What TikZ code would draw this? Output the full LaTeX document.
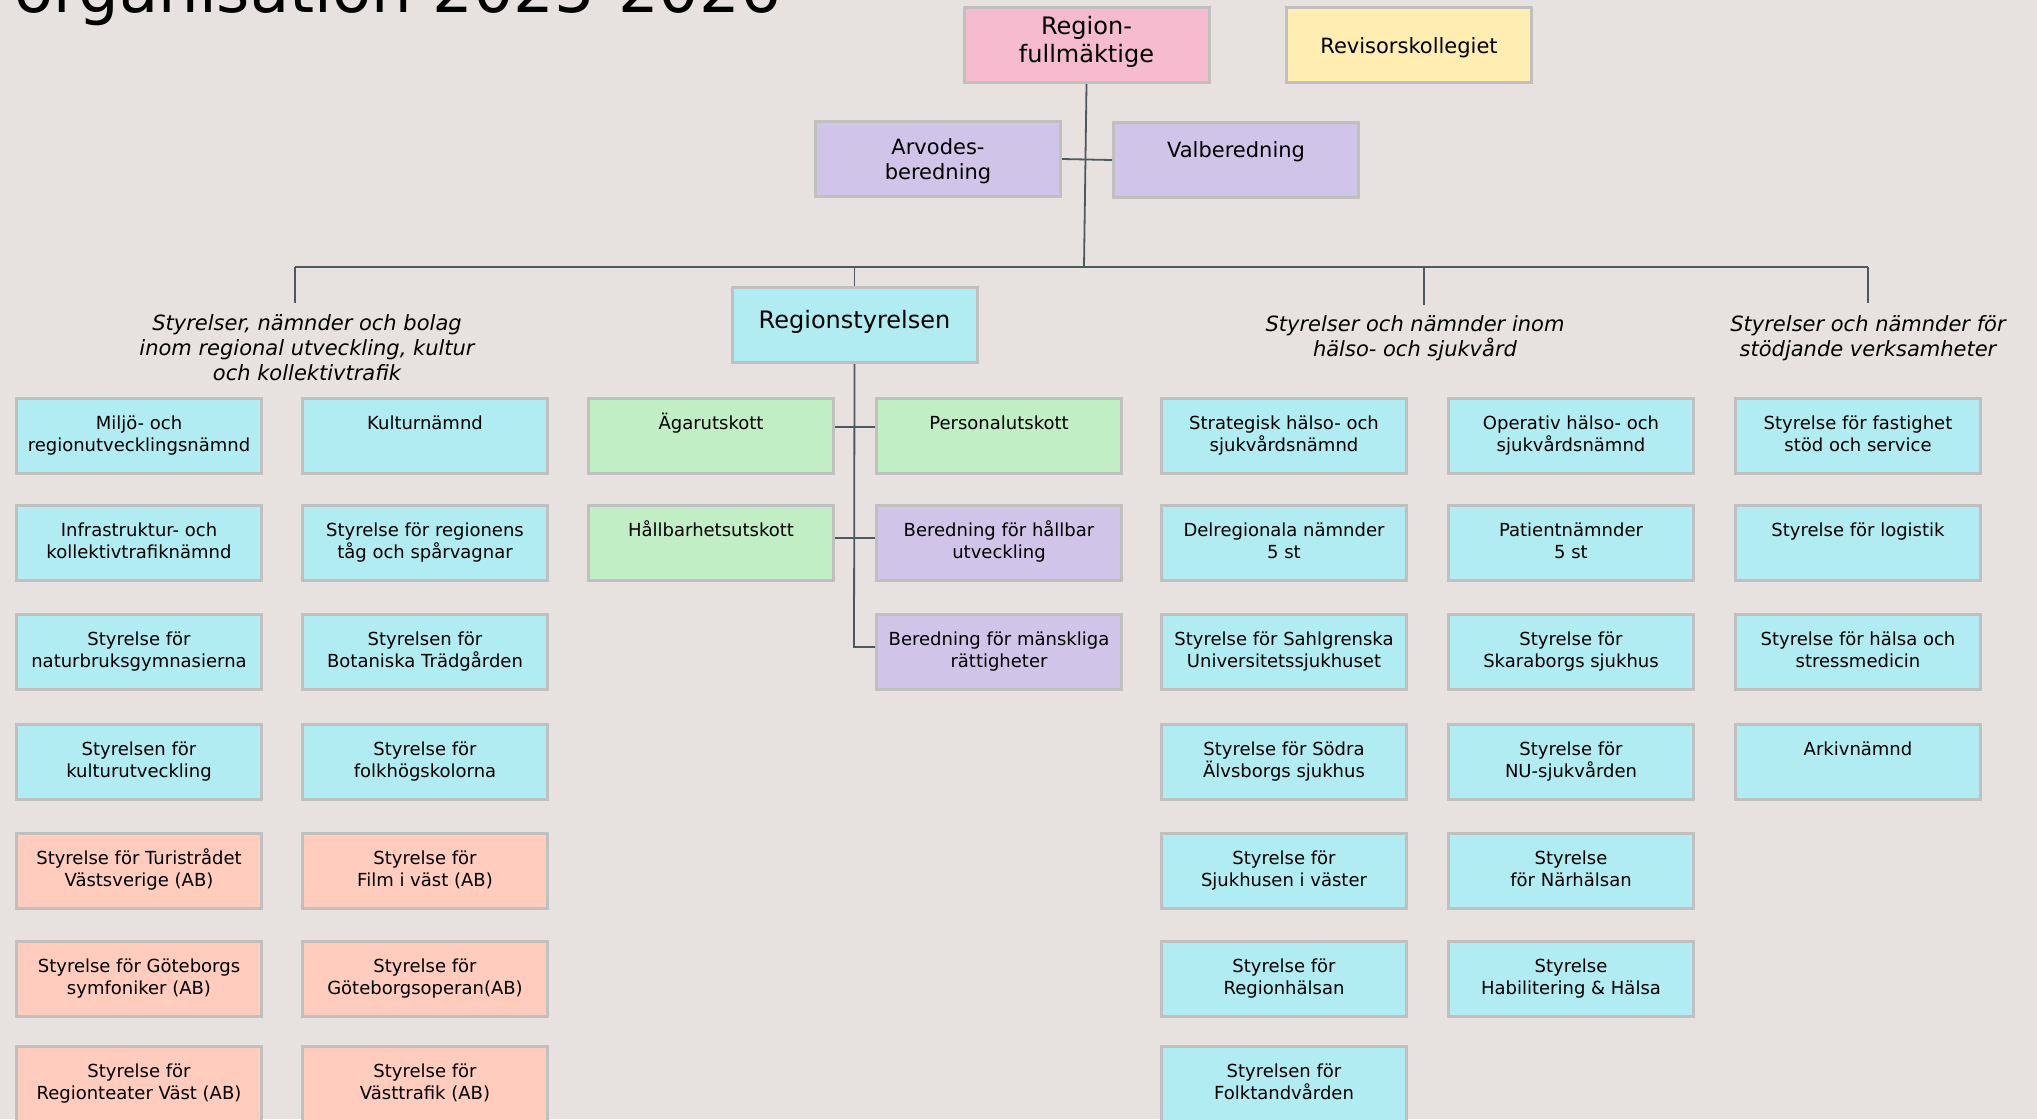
\documentclass[tikz,border=0pt]{standalone}
\usepackage{fontspec}
\setmainfont{DejaVu Sans}
\definecolor{bg}{RGB}{231,226,223}
\definecolor{cyanbox}{RGB}{176,236,242}
\definecolor{greenbox}{RGB}{193,238,196}
\definecolor{lavbox}{RGB}{208,197,233}
\definecolor{salbox}{RGB}{255,204,189}
\definecolor{pinkbox}{RGB}{246,187,207}
\definecolor{yelbox}{RGB}{255,237,178}
\definecolor{bordergray}{RGB}{192,192,192}
\definecolor{linegray}{RGB}{78,88,95}
\tikzset{
  boxst/.style={draw=bordergray, line width=3pt, inner sep=0pt, minimum width=245pt, minimum height=75pt},
  smalltxt/.style={anchor=north, inner sep=0pt, align=center, font=\fontsize{18}{22.5}\selectfont},
  midtxt/.style={anchor=north, inner sep=0pt, align=center, font=\fontsize{21}{25}\selectfont},
  bigtxt/.style={anchor=north, inner sep=0pt, align=center, font=\fontsize{24}{28}\selectfont},
  grouptxt/.style={anchor=north, inner sep=0pt, align=center, font=\fontsize{21}{25}\selectfont\itshape},
  conn/.style={draw=linegray, line width=1.8pt},
}
\newcommand\obox[5]{%
  \node[boxst, fill=#4] (#1) at ({#2+124},{#3+39}) {};
  \node[smalltxt] (#1-t) at ({#2+124},{#3+14}) {\rule{0pt}{18pt}#5};
}
\begin{document}
\begin{tikzpicture}[x=1pt,y=-1pt]
\useasboundingbox (0,0) rectangle (2037,1119);
\clip (0,0) rectangle (2037,1119);
\fill[bg] (0,0) rectangle (2037,1119);

% title
\node[anchor=base west, inner sep=0pt, font=\fontsize{64}{70}\selectfont] (title) at (14,12) {organisation 2025-2026};

% top boxes
\node[boxst, fill=pinkbox] (rf) at (1086.5,45) {};
\node[bigtxt] (rf-t) at (1086.5,9.8) {\rule{0pt}{24pt}Region-\\fullmäktige};
\node[boxst, fill=yelbox] (rev) at (1409,45) {};
\node[midtxt] (rev-t) at (1409,32.7) {\rule{0pt}{21pt}Revisorskollegiet};
\node[boxst, fill=lavbox] (arv) at (938,159) {};
\node[midtxt] (arv-t) at (938,133.7) {\rule{0pt}{21pt}Arvodes-\\beredning};
\node[boxst, fill=lavbox] (valb) at (1236,160) {};
\node[midtxt] (valb-t) at (1236,136.7) {\rule{0pt}{21pt}Valberedning};
\node[boxst, fill=cyanbox] (rs) at (854.5,325) {};
\node[bigtxt] (rs-t) at (854.5,303.8) {\rule{0pt}{24pt}Regionstyrelsen};

% group labels
\node[grouptxt] (g1) at (307,309.7) {\rule{0pt}{21pt}Styrelser, nämnder och bolag\\inom regional utveckling, kultur\\och kollektivtrafik};
\node[grouptxt] (g2) at (1415,310.7) {\rule{0pt}{21pt}Styrelser och nämnder inom\\hälso- och sjukvård};
\node[grouptxt] (g3) at (1868,310.7) {\rule{0pt}{21pt}Styrelser och nämnder för\\stödjande verksamheter};

% column 1
\obox{a1}{15}{397}{cyanbox}{Miljö- och\\regionutvecklingsnämnd}
\obox{a2}{15}{504}{cyanbox}{Infrastruktur- och\\kollektivtrafiknämnd}
\obox{a3}{15}{613}{cyanbox}{Styrelse för\\naturbruksgymnasierna}
\obox{a4}{15}{723}{cyanbox}{Styrelsen för\\kulturutveckling}
\obox{a5}{15}{832}{salbox}{Styrelse för Turistrådet\\Västsverige (AB)}
\obox{a6}{15}{940}{salbox}{Styrelse för Göteborgs\\symfoniker (AB)}
\obox{a7}{15}{1045}{salbox}{Styrelse för\\Regionteater Väst (AB)}
% column 2
\obox{b1}{301}{397}{cyanbox}{Kulturnämnd}
\obox{b2}{301}{504}{cyanbox}{Styrelse för regionens\\tåg och spårvagnar}
\obox{b3}{301}{613}{cyanbox}{Styrelsen för\\Botaniska Trädgården}
\obox{b4}{301}{723}{cyanbox}{Styrelse för\\folkhögskolorna}
\obox{b5}{301}{832}{salbox}{Styrelse för\\Film i väst (AB)}
\obox{b6}{301}{940}{salbox}{Styrelse för\\Göteborgsoperan(AB)}
\obox{b7}{301}{1045}{salbox}{Styrelse för\\Västtrafik (AB)}
% column 3 and 4
\obox{c1}{587}{397}{greenbox}{Ägarutskott}
\obox{c2}{587}{504}{greenbox}{Hållbarhetsutskott}
\obox{d1}{875}{397}{greenbox}{Personalutskott}
\obox{d2}{875}{504}{lavbox}{Beredning för hållbar\\utveckling}
\obox{d3}{875}{613}{lavbox}{Beredning för mänskliga\\rättigheter}
% column 5
\obox{e1}{1160}{397}{cyanbox}{Strategisk hälso- och\\sjukvårdsnämnd}
\obox{e2}{1160}{504}{cyanbox}{Delregionala nämnder\\5 st}
\obox{e3}{1160}{613}{cyanbox}{Styrelse för Sahlgrenska\\Universitetssjukhuset}
\obox{e4}{1160}{723}{cyanbox}{Styrelse för Södra\\Älvsborgs sjukhus}
\obox{e5}{1160}{832}{cyanbox}{Styrelse för\\Sjukhusen i väster}
\obox{e6}{1160}{940}{cyanbox}{Styrelse för\\Regionhälsan}
\obox{e7}{1160}{1045}{cyanbox}{Styrelsen för\\Folktandvården}
% column 6
\obox{f1}{1447}{397}{cyanbox}{Operativ hälso- och\\sjukvårdsnämnd}
\obox{f2}{1447}{504}{cyanbox}{Patientnämnder\\5 st}
\obox{f3}{1447}{613}{cyanbox}{Styrelse för\\Skaraborgs sjukhus}
\obox{f4}{1447}{723}{cyanbox}{Styrelse för\\NU-sjukvården}
\obox{f5}{1447}{832}{cyanbox}{Styrelse\\för Närhälsan}
\obox{f6}{1447}{940}{cyanbox}{Styrelse\\Habilitering \& Hälsa}
% column 7
\obox{h1}{1734}{397}{cyanbox}{Styrelse för fastighet\\stöd och service}
\obox{h2}{1734}{504}{cyanbox}{Styrelse för logistik}
\obox{h3}{1734}{613}{cyanbox}{Styrelse för hälsa och\\stressmedicin}
\obox{h4}{1734}{723}{cyanbox}{Arkivnämnd}

% connectors
\coordinate (busM) at (1084,267);
\coordinate (busL) at (295,267);
\coordinate (busR) at (1868,267);
\coordinate (busH) at (1424,267);
\coordinate (g1top) at (295,303);
\coordinate (g2top) at (1424,305);
\coordinate (g3top) at (1868,303);
\coordinate (s1) at (0,427);
\coordinate (s2) at (0,538);
\coordinate (j3) at (854,647);

\draw[conn] (rf.south) -- (busM);
\draw[conn] (arv.east) -- (valb.west);
\draw[conn] (busL) -- (busR);
\draw[conn] (busL) -- (g1top);
\draw[conn] (busH) -- (g2top);
\draw[conn] (busR) -- (g3top);
\draw[conn] (rs.north |- busL) -- (rs.north);
\draw[conn] (rs.south) -- (j3) -- (j3 -| d3.west);
\draw[conn] (c1.east |- s1) -- (d1.west |- s1);
\draw[conn] (c2.east |- s2) -- (d2.west |- s2);
\end{tikzpicture}
\end{document}
